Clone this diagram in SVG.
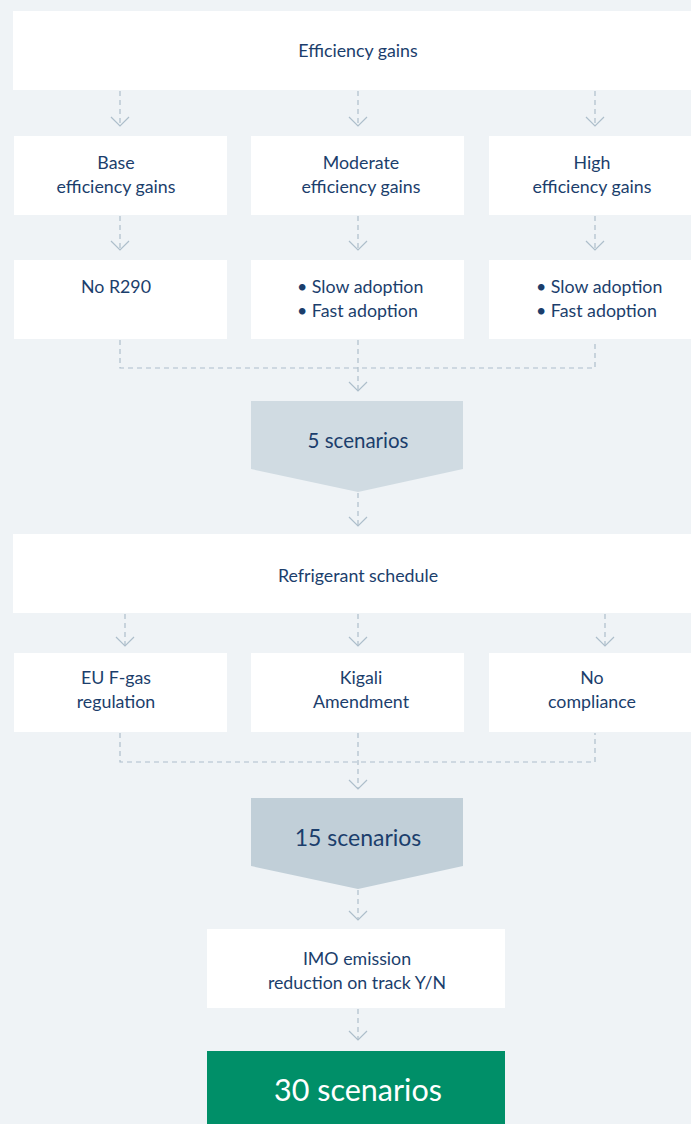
<svg xmlns="http://www.w3.org/2000/svg" width="691" height="1124" viewBox="0 0 691 1124">
<defs>
<style>
.bg{fill:#eff3f6}
.box{fill:#ffffff}
.t{font-family:"Source Sans Pro",Lato,"Liberation Sans",sans-serif;font-size:17.8px;fill:#1b3e6c;text-anchor:middle}
.tl{text-anchor:start}
.c{fill:none;stroke:#adbecb;stroke-width:1.2;stroke-dasharray:5 4}
.ah{fill:none;stroke:#adbecb;stroke-width:1.2}
</style>
</defs>
<rect class="bg" x="0" y="0" width="691" height="1124"/>

<g id="connectors">
<path class="c" d="M120,91 V126"/>
<path class="c" d="M358,91 V126"/>
<path class="c" d="M595,91 V126"/>
<path d="M111,117 L120,126 L129,117 M349,117 L358,126 L367,117 M586,117 L595,126 L604,117" class="ah"/>
<path class="c" d="M120,216 V250"/>
<path class="c" d="M358,216 V250"/>
<path class="c" d="M595,216 V250"/>
<path d="M111,241 L120,250 L129,241 M349,241 L358,250 L367,241 M586,241 L595,250 L604,241" class="ah"/>
<path class="c" d="M120,340 V368 H595 V340"/>
<path class="c" d="M358,340 V391"/>
<path d="M349,382 L358,391 L367,382" class="ah"/>
<path class="c" d="M358,493 V526"/>
<path d="M349,517 L358,526 L367,517" class="ah"/>
<path class="c" d="M125,614 V646"/>
<path class="c" d="M358,614 V646"/>
<path class="c" d="M605,614 V646"/>
<path d="M116,637 L125,646 L134,637 M349,637 L358,646 L367,637 M596,637 L605,646 L614,637" class="ah"/>
<path class="c" d="M120,733 V762 H595 V733"/>
<path class="c" d="M358,733 V789"/>
<path d="M349,780 L358,789 L367,780" class="ah"/>
<path class="c" d="M358,890 V920"/>
<path d="M349,911 L358,920 L367,911" class="ah"/>
<path class="c" d="M358,1009 V1040"/>
<path d="M349,1031 L358,1040 L367,1031" class="ah"/>
</g>

<g id="efficiency-gains">
<rect class="box" x="13" y="11" width="678" height="79"/>
<text class="t" x="358" y="57">Efficiency gains</text>
</g>
<g id="base">
<rect class="box" x="14" y="136" width="213" height="79"/>
<text class="t" x="116" y="169">Base</text>
<text class="t" x="116" y="193">efficiency gains</text>
</g>
<g id="moderate">
<rect class="box" x="251" y="136" width="213" height="79"/>
<text class="t" x="361" y="169">Moderate</text>
<text class="t" x="361" y="193">efficiency gains</text>
</g>
<g id="high">
<rect class="box" x="489" y="136" width="202" height="79"/>
<text class="t" x="592" y="169">High</text>
<text class="t" x="592" y="193">efficiency gains</text>
</g>
<g id="no-r290">
<rect class="box" x="14" y="260" width="213" height="79"/>
<text class="t" x="116" y="293">No R290</text>
</g>
<g id="moderate-adoption">
<rect class="box" x="251" y="260" width="213" height="79"/>
<text class="t tl" x="297" y="293">• Slow adoption</text>
<text class="t tl" x="297" y="317">• Fast adoption</text>
</g>
<g id="high-adoption">
<rect class="box" x="489" y="260" width="202" height="79"/>
<text class="t tl" x="536" y="293">• Slow adoption</text>
<text class="t tl" x="536" y="317">• Fast adoption</text>
</g>
<g id="five-scenarios">
<path d="M251,401 H463 V469 L358,492 L251,469 Z" fill="#d0dbe2"/>
<text class="t" x="358" y="448" style="font-size:20.5px">5 scenarios</text>
</g>
<g id="refrigerant-schedule">
<rect class="box" x="13" y="534" width="678" height="79"/>
<text class="t" x="358" y="582">Refrigerant schedule</text>
</g>
<g id="eu-fgas">
<rect class="box" x="14" y="653" width="213" height="79"/>
<text class="t" x="116" y="684">EU F-gas</text>
<text class="t" x="116" y="708">regulation</text>
</g>
<g id="kigali">
<rect class="box" x="251" y="653" width="213" height="79"/>
<text class="t" x="361" y="684">Kigali</text>
<text class="t" x="361" y="708">Amendment</text>
</g>
<g id="no-compliance">
<rect class="box" x="489" y="653" width="202" height="79"/>
<text class="t" x="592" y="684">No</text>
<text class="t" x="592" y="708">compliance</text>
</g>
<g id="fifteen-scenarios">
<path d="M251,798 H463 V866 L358,889 L251,866 Z" fill="#c1cfd8"/>
<text class="t" x="358" y="846" style="font-size:23px">15 scenarios</text>
</g>
<g id="imo">
<rect class="box" x="207" y="929" width="298" height="79"/>
<text class="t" x="357" y="965">IMO emission</text>
<text class="t" x="357" y="989">reduction on track Y/N</text>
</g>
<g id="thirty-scenarios">
<rect x="207" y="1051" width="298" height="73" fill="#008f68"/>
<text class="t" x="358" y="1101" style="font-size:30.5px;fill:#ffffff">30 scenarios</text>
</g>
</svg>
